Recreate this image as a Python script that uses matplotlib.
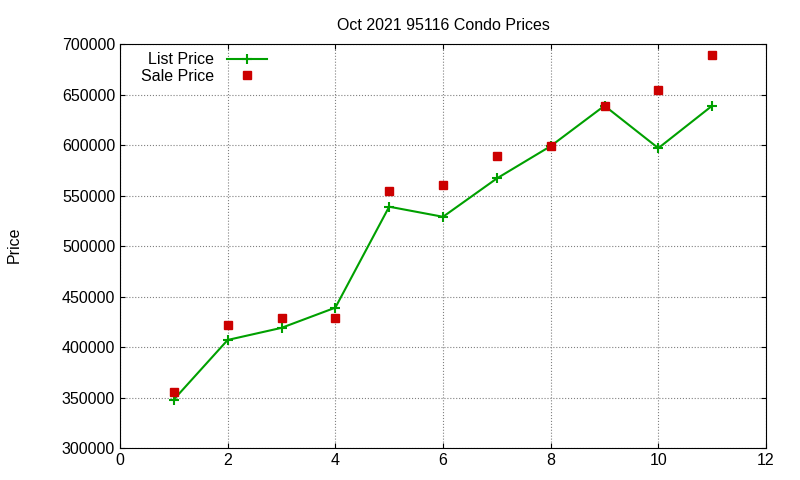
import numpy as np
import matplotlib.pyplot as plt

plt.rcParams['font.family'] = ['Liberation Sans', 'DejaVu Sans']

months = [1, 2, 3, 4, 5, 6, 7, 8, 9, 10, 11]
list_price = [348000, 407000, 419000, 439000, 539000, 529000, 567000, 599000, 639000, 597000, 639000]
sale_price = [355000, 422000, 429000, 429000, 555000, 560000, 589000, 599000, 639000, 655000, 689000]

fig = plt.figure(figsize=(8, 4.8), dpi=100)
ax = fig.add_axes([0.15, 0.0667, 0.8075, 0.8413])
ax.plot(months, list_price, color='#00a000', marker='+', markersize=7, mew=1.5, lw=1.5, label='List Price')
ax.plot(months, sale_price, ls='none', color='#cc0000', marker='s', markersize=5.5, label='Sale Price')
ax.set_xlim(0, 12)
ax.set_ylim(300000, 700000)
ax.set_xticks(range(0, 13, 2))
ax.set_yticks(range(300000, 700001, 50000))
ax.grid(True, ls=':', color='#808080', lw=0.8)
ax.tick_params(direction='in', labelsize=11.5, top=True, right=True)
ax.set_title('Oct 2021 95116 Condo Prices', fontsize=11.5, pad=10)
fig.text(0.008, 0.49, 'Price', rotation=90, fontsize=11.5, va='center')
ax.legend(loc='upper left', frameon=False, markerfirst=False, fontsize=11.5,
          handlelength=2.5, borderaxespad=0.1, labelspacing=0.1, bbox_to_anchor=(0.02, 1.0))
fig.savefig('out.png')
